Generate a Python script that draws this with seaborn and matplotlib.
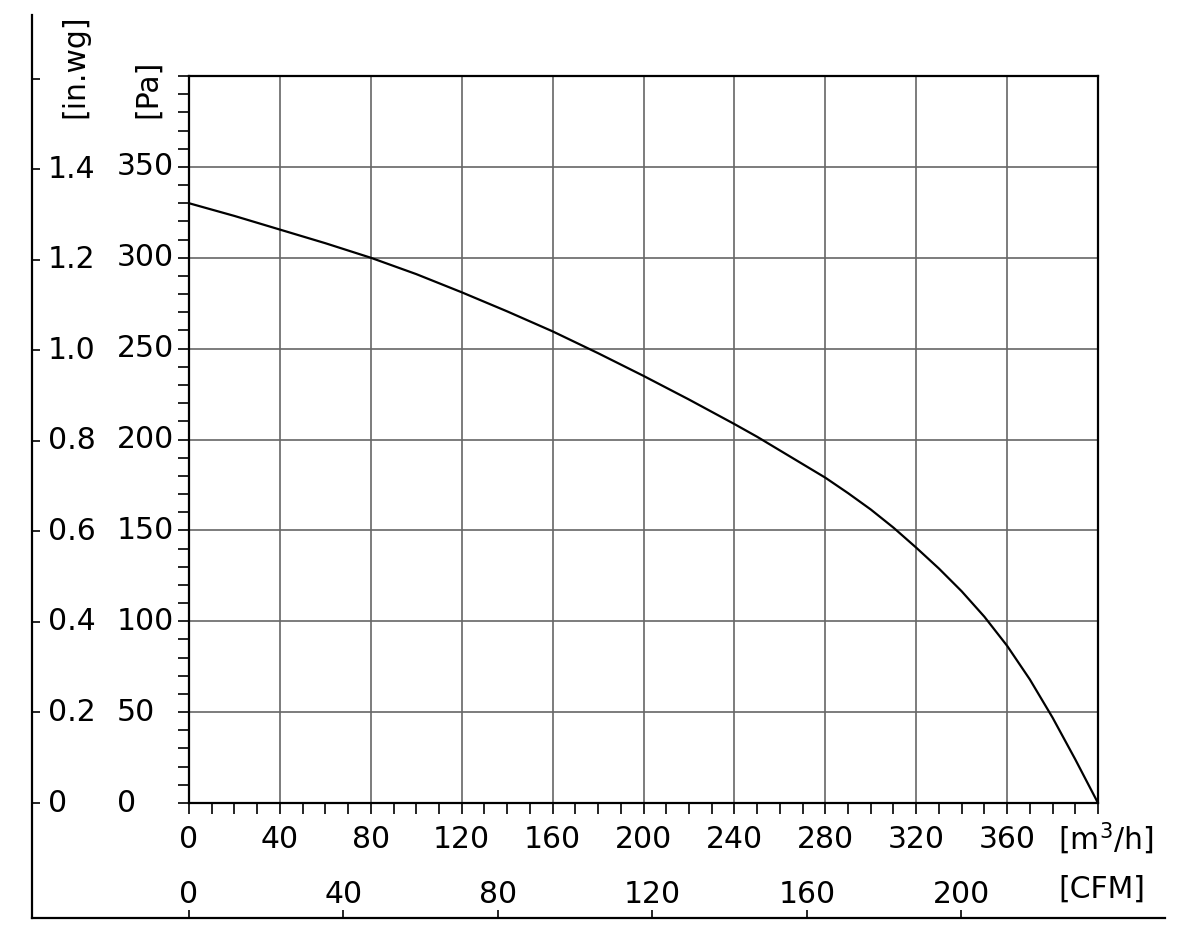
import matplotlib
matplotlib.use("Agg")
import matplotlib.pyplot as plt
import seaborn as sns
import pandas as pd

# fan curve (airflow in m3/h, static pressure in Pa)
flow_m3h = [0, 20, 40, 60, 80, 100, 120, 140, 160, 180, 200, 220, 240, 250,
            260, 270, 280, 290, 300, 310, 320, 330, 340, 350, 360, 370, 380,
            390, 400]
pressure_pa = [330, 323, 315.5, 308, 300, 291, 281, 270.5, 259.5, 247.5, 235,
               222, 208.5, 201.5, 194, 186.5, 179, 170.5, 161.5, 151.5, 140.5,
               129, 116.5, 102.5, 86.5, 68, 47, 24, 0]

m3h_ticks = [0, 40, 80, 120, 160, 200, 240, 280, 320, 360, 400]
m3h_labels = ['0', '40', '80', '120', '160', '200', '240', '280', '320', '360', '']
pa_ticks = [0, 50, 100, 150, 200, 250, 300, 350, 400]
pa_labels = ['0', '50', '100', '150', '200', '250', '300', '350', '']
inwg_ticks = [0, 0.2, 0.4, 0.6, 0.8, 1.0, 1.2, 1.4, 1.6]
inwg_labels = ['0', '0.2', '0.4', '0.6', '0.8', '1.0', '1.2', '1.4', '']
cfm_ticks = [0, 40, 80, 120, 160, 200]
cfm_labels = ['0', '40', '80', '120', '160', '200']

M3H_PER_CFM = 1.699
PA_PER_INWG = 249.09

df = pd.DataFrame({'flow': flow_m3h, 'pressure': pressure_pa})

sns.set_style('white')
plt.rcParams['font.family'] = ['DejaVu Sans']
plt.rcParams['text.color'] = 'black'
plt.rcParams['xtick.color'] = 'black'
plt.rcParams['ytick.color'] = 'black'
plt.rcParams['axes.labelcolor'] = 'black'
FS = 21.5

W, H = 1192, 951
fig = plt.figure(figsize=(W / 100, H / 100), dpi=100)

# outer frame axis (in.wg on the left, CFM at the bottom)
main_pos = [189 / W, 1 - 803 / H, 909 / W, 727 / H]
outer_pos = [32 / W, 1 - 918 / H, 1133 / W, 903 / H]
ox = fig.add_axes(outer_pos)
ax = fig.add_axes(main_pos)

xlim = (0, 400)
ylim = (0, 400)
# map outer axes limits so they share the main data scale
x0 = xlim[0] + (outer_pos[0] - main_pos[0]) / main_pos[2] * (xlim[1] - xlim[0])
x1 = xlim[0] + (outer_pos[0] + outer_pos[2] - main_pos[0]) / main_pos[2] * (xlim[1] - xlim[0])
y0 = ylim[0] + (outer_pos[1] - main_pos[1]) / main_pos[3] * (ylim[1] - ylim[0])
y1 = ylim[0] + (outer_pos[1] + outer_pos[3] - main_pos[1]) / main_pos[3] * (ylim[1] - ylim[0])
ox.set_xlim(x0, x1)
ox.set_ylim(y0, y1)
ox.patch.set_alpha(0)
for s in ['top', 'right']:
    ox.spines[s].set_visible(False)
for s in ['left', 'bottom']:
    ox.spines[s].set_linewidth(1.6)
    ox.spines[s].set_color('black')
ox.set_yticks([v * PA_PER_INWG for v in inwg_ticks])
ox.set_yticklabels(inwg_labels)
ox.set_xticks([v * M3H_PER_CFM for v in cfm_ticks])
ox.set_xticklabels(cfm_labels)
ox.tick_params(axis='y', direction='in', length=5.5, width=1.2, pad=-11.5,
               labelsize=FS, left=True)
ox.tick_params(axis='x', direction='in', length=5.5, width=1.2, pad=-10.8,
               labelsize=FS, bottom=True)
for t in ox.get_yticklabels():
    t.set_ha('left')
    t.set_va('center')
for t in ox.get_xticklabels():
    t.set_va('baseline')

# main chart
sns.lineplot(data=df, x='flow', y='pressure', ax=ax, color='black', linewidth=1.6)
ax.set_xlim(*xlim)
ax.set_ylim(*ylim)
ax.set_xticks(m3h_ticks)
ax.set_xticklabels(m3h_labels)
ax.set_xticks(range(0, 401, 10), minor=True)
ax.set_yticks(pa_ticks)
ax.set_yticklabels(pa_labels)
ax.set_yticks(range(0, 401, 10), minor=True)
ax.grid(True, which='major', color='#666666', linewidth=1.2)
ax.set_xlabel('')
ax.set_ylabel('')
for s in ax.spines.values():
    s.set_linewidth(1.6)
    s.set_color('black')
ax.tick_params(axis='both', which='both', direction='out', length=8, width=1.2,
               color='black', left=True, bottom=True, labelsize=FS)
ax.tick_params(axis='x', which='major', pad=8)
ax.tick_params(axis='y', which='major', pad=44)
for t in ax.get_yticklabels():
    t.set_ha('left')
    t.set_va('center')

# unit labels
fig.text(1058 / W, 1 - 839 / H, '[m$^3$/h]', fontsize=FS, ha='left', va='center')
fig.text(1058 / W, 1 - 889 / H, '[CFM]', fontsize=FS, ha='left', va='center')
fig.text(75 / W, 1 - 118 / H, '[in.wg]', fontsize=FS, rotation=90, ha='center', va='bottom')
fig.text(148 / W, 1 - 118 / H, '[Pa]', fontsize=FS, rotation=90, ha='center', va='bottom')

plt.savefig('out.png', dpi=100)
